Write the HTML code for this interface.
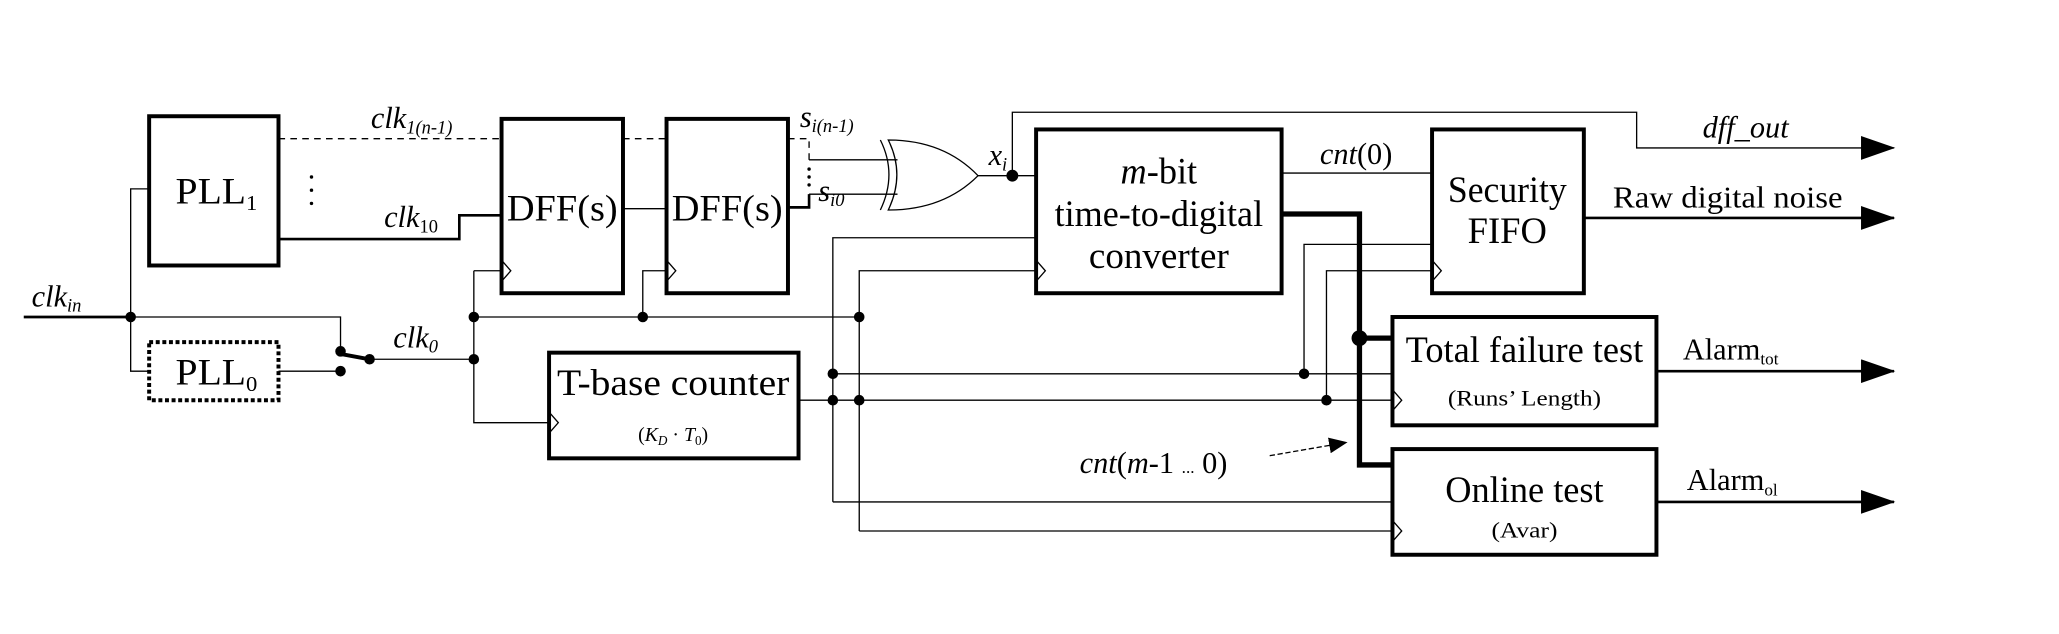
<!DOCTYPE html>
<html><head><meta charset="utf-8"><style>
html,body{margin:0;padding:0;background:#fff;}
svg{display:block;}
text{font-family:"Liberation Serif",serif;fill:#000;}
</style></head><body>
<svg width="2059" height="634" viewBox="0 0 1560 480" preserveAspectRatio="none" xmlns="http://www.w3.org/2000/svg">
<defs>
<marker id="ar" markerWidth="26" markerHeight="18" refX="25" refY="9" orient="auto" markerUnits="userSpaceOnUse"><path d="M0,0 L26,9 L0,18z" fill="#000"/></marker>
<marker id="ar2" markerWidth="14" markerHeight="12" refX="13" refY="6" orient="auto" markerUnits="userSpaceOnUse"><path d="M0,0 L14,6 L0,12z" fill="#000"/></marker>
</defs>
<g fill="none" stroke="#000" stroke-width="1">
<rect x="113" y="88" width="98" height="113" stroke-width="3"/>
<rect x="113" y="259" width="98" height="44" stroke-width="3" stroke-dasharray="3,2"/>
<rect x="380" y="90" width="92" height="132" stroke-width="3"/>
<rect x="505" y="90" width="92" height="132" stroke-width="3"/>
<rect x="785" y="98" width="186" height="124" stroke-width="3"/>
<rect x="1085" y="98" width="115" height="124" stroke-width="3"/>
<rect x="1055" y="240" width="200" height="82" stroke-width="3"/>
<rect x="1055" y="340" width="200" height="80" stroke-width="3"/>
<rect x="416" y="267" width="189" height="80" stroke-width="3"/>
<path d="M380,197 L387,205 L380,213 M505,197 L512,205 L505,213 M785,197 L792,205 L785,213 M1085,197 L1092,205 L1085,213 M416,312 L423,320 L416,328 M1055,295 L1062,303 L1055,311 M1055,394 L1062,402 L1055,410"/>
<path d="M18,240 L99,240" stroke-width="2"/>
<path d="M99,240 L258,240 L258,266"/>
<path d="M113,143 L99,143 L99,281 L113,281"/>
<path d="M211,281 L258,281"/>
<path d="M258,268 L280,272" stroke-width="3"/>
<path d="M211,105 L380,105 M472,105 L505,105 M597,105 L613,105 L613,121" stroke-dasharray="5,4"/>
<path d="M613,121 L680,121 M613,147 L680,147"/>
<path d="M211,181 L348,181 L348,163 L380,163" stroke-width="2"/>
<path d="M472,158 L505,158"/>
<path d="M597,157 L613,157 L613,147" stroke-width="2"/>
<path d="M667,106 Q680,132 667,159"/>
<path d="M673,106 Q686,132 673,159 Q715,159 741,133 Q715,106 673,106z"/>
<path d="M741,133 L785,133"/>
<path d="M767,133 L767,85 L1240,85 L1240,112 L1435,112" marker-end="url(#ar)"/>
<path d="M280,272 L359,272"/>
<path d="M359,205 L380,205 M359,205 L359,320 L416,320"/>
<path d="M359,240 L651,240"/>
<path d="M487,240 L487,205 L505,205"/>
<path d="M631,380 L631,180 L785,180"/>
<path d="M651,402 L651,205 L785,205"/>
<path d="M605,303 L1055,303"/>
<path d="M631,283 L1055,283"/>
<path d="M631,380 L1055,380 M651,402 L1055,402"/>
<path d="M988,283 L988,185 L1085,185"/>
<path d="M1005,303 L1005,205 L1085,205"/>
<path d="M971,131 L1085,131"/>
<path d="M971,162 L1030,162 L1030,352 L1055,352 M1030,256 L1055,256" stroke-width="4"/>
<path d="M1200,165 L1435,165" stroke-width="2" marker-end="url(#ar)"/>
<path d="M1255,281 L1435,281" stroke-width="2" marker-end="url(#ar)"/>
<path d="M1255,380 L1435,380" stroke-width="2" marker-end="url(#ar)"/>
<path d="M962,345 L1020,335" stroke-dasharray="4,2" marker-end="url(#ar2)"/>
</g>
<g fill="#000">
<circle cx="99" cy="240" r="4"/><circle cx="258" cy="266" r="4"/><circle cx="258" cy="281" r="4"/><circle cx="280" cy="272" r="4"/>
<circle cx="359" cy="240" r="4"/><circle cx="359" cy="272" r="4"/><circle cx="487" cy="240" r="4"/><circle cx="651" cy="240" r="4"/>
<circle cx="631" cy="283" r="4"/><circle cx="631" cy="303" r="4"/><circle cx="651" cy="303" r="4"/>
<circle cx="988" cy="283" r="4"/><circle cx="1005" cy="303" r="4"/><circle cx="767" cy="133" r="4.5"/>
<circle cx="1030" cy="256" r="6"/>
<circle cx="613" cy="128" r="1.3"/><circle cx="613" cy="134" r="1.3"/><circle cx="613" cy="140" r="1.3"/>
<circle cx="236" cy="134" r="1.3"/><circle cx="236" cy="144" r="1.3"/><circle cx="236" cy="154" r="1.3"/>
</g>
<g font-size="28">
<text x="133" y="154" textLength="62" lengthAdjust="spacingAndGlyphs">PLL<tspan font-size="16" dy="5">1</tspan></text>
<text x="133" y="291" textLength="62" lengthAdjust="spacingAndGlyphs">PLL<tspan font-size="16" dy="5">0</tspan></text>
<text x="426" y="167" text-anchor="middle" textLength="84" lengthAdjust="spacingAndGlyphs">DFF(s)</text>
<text x="551" y="167" text-anchor="middle" textLength="84" lengthAdjust="spacingAndGlyphs">DFF(s)</text>
<text x="878" y="139" text-anchor="middle" textLength="58" lengthAdjust="spacingAndGlyphs"><tspan font-style="italic">m</tspan>-bit</text>
<text x="878" y="171" text-anchor="middle" textLength="158" lengthAdjust="spacingAndGlyphs">time-to-digital</text>
<text x="878" y="203" text-anchor="middle" textLength="106" lengthAdjust="spacingAndGlyphs">converter</text>
<text x="1142" y="153" text-anchor="middle" textLength="90" lengthAdjust="spacingAndGlyphs">Security</text>
<text x="1142" y="184" text-anchor="middle" textLength="60" lengthAdjust="spacingAndGlyphs">FIFO</text>
<text x="1155" y="274" text-anchor="middle" textLength="180" lengthAdjust="spacingAndGlyphs">Total failure test</text>
<text x="1155" y="307" font-size="17" text-anchor="middle" textLength="116" lengthAdjust="spacingAndGlyphs">(Runs’ Length)</text>
<text x="1155" y="380" text-anchor="middle" textLength="120" lengthAdjust="spacingAndGlyphs">Online test</text>
<text x="1155" y="407" font-size="17" text-anchor="middle" textLength="50" lengthAdjust="spacingAndGlyphs">(Avar)</text>
<text x="510" y="299" text-anchor="middle" textLength="176" lengthAdjust="spacingAndGlyphs">T-base counter</text>
<text x="510" y="334" font-size="15" text-anchor="middle">(<tspan font-style="italic">K<tspan font-size="10" dy="3">D</tspan></tspan><tspan dy="-3"> · </tspan><tspan font-style="italic">T</tspan><tspan font-size="10" dy="3">0</tspan><tspan dy="-3">)</tspan></text>
</g>
<g font-size="23">
<text x="24" y="232" font-style="italic">clk<tspan font-size="14" dy="4">in</tspan></text>
<text x="281" y="97" font-style="italic">clk<tspan font-size="14" dy="4">1(<tspan font-style="italic">n</tspan>-1)</tspan></text>
<text x="291" y="172" font-style="italic">clk<tspan font-size="14" dy="4" font-style="normal">10</tspan></text>
<text x="298" y="263" font-style="italic">clk<tspan font-size="14" dy="4">0</tspan></text>
<text x="606" y="96" font-style="italic">s<tspan font-size="14" dy="4">i(n-1)</tspan></text>
<text x="620" y="152" font-style="italic">s<tspan font-size="14" dy="4">i0</tspan></text>
<text x="749" y="125" font-style="italic">x<tspan font-size="14" dy="4">i</tspan></text>
<text x="1000" y="124"><tspan font-style="italic">cnt</tspan>(0)</text>
<text x="1290" y="104" font-style="italic">dff_out</text>
<text x="1222" y="157" textLength="174" lengthAdjust="spacingAndGlyphs">Raw digital noise</text>
<text x="1275" y="272">Alarm<tspan font-size="13" dy="4">tot</tspan></text>
<text x="1278" y="371">Alarm<tspan font-size="13" dy="4">ol</tspan></text>
<text x="818" y="358"><tspan font-style="italic">cnt</tspan>(<tspan font-style="italic">m</tspan>-1 <tspan font-size="13">...</tspan> 0)</text>
</g>
</svg>
</body></html>
